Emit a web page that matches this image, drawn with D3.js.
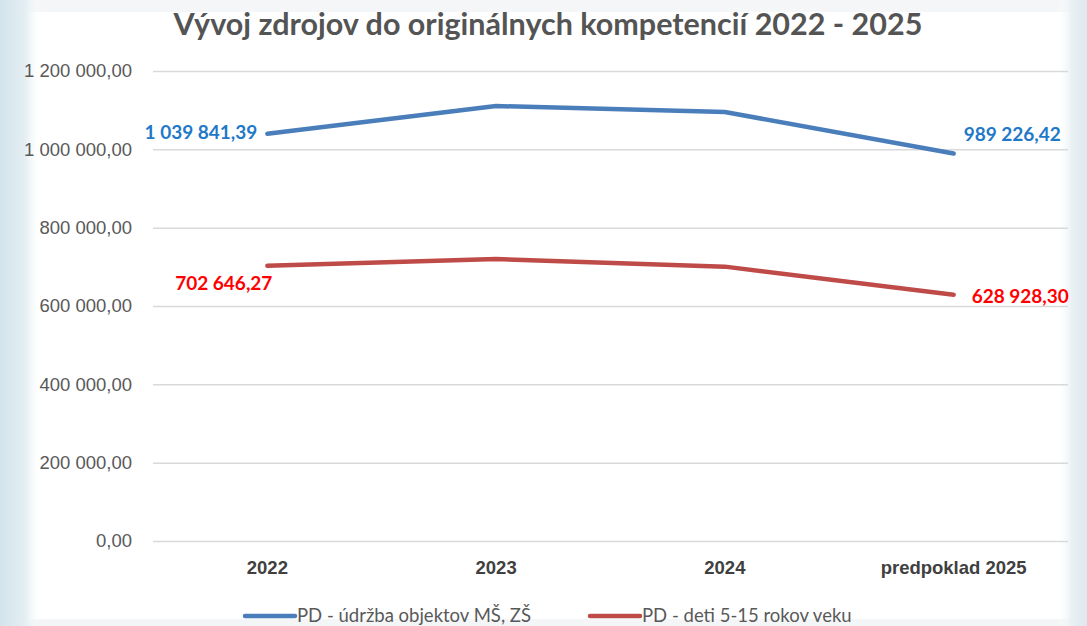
<!DOCTYPE html>
<html>
<head>
<meta charset="utf-8">
<script src="https://cdn.jsdelivr.net/npm/d3@7"></script>
<style>
  body { margin: 0; background: #fff; }
  svg { display: block; font-family: Lato, "Open Sans", sans-serif; }
</style>
</head>
<body>
<div id="chart"></div>
<script>
// Data
const categories = ["2022", "2023", "2024", "predpoklad 2025"];
const udrzba = [1039841.39, 1110500, 1095300, 989226.42];
const deti = [702646.27, 720000, 700500, 628928.30];
const yTicks = [0, 200000, 400000, 600000, 800000, 1000000, 1200000];
const seriesNames = ["PD - údržba objektov MŠ, ZŠ", "PD - deti 5-15 rokov veku"];

const W = 1087, H = 626;
const margin = {top: 71, right: 19, bottom: 85, left: 153},
    width = W - margin.left - margin.right,
    height = H - margin.top - margin.bottom;

const svg = d3.select("#chart")
    .append("svg")
    .attr("width", W)
    .attr("height", H);

// background with soft blue edges
const defs = svg.append("defs");
const gl = defs.append("linearGradient").attr("id", "gl");
gl.append("stop").attr("offset", "0%").attr("stop-color", "#d3e4ec");
gl.append("stop").attr("offset", "60%").attr("stop-color", "#e4eef3");
gl.append("stop").attr("offset", "100%").attr("stop-color", "#ffffff").attr("stop-opacity", 0);
const gr = defs.append("linearGradient").attr("id", "gr");
gr.append("stop").attr("offset", "0%").attr("stop-color", "#ffffff").attr("stop-opacity", 0);
gr.append("stop").attr("offset", "50%").attr("stop-color", "#e8f0f3");
gr.append("stop").attr("offset", "100%").attr("stop-color", "#dde9ee");

svg.append("rect").attr("width", W).attr("height", H).attr("fill", "#ffffff");
svg.append("rect").attr("width", W).attr("height", 12).attr("fill", "#f4f6f7");
svg.append("rect").attr("y", H - 7).attr("width", W).attr("height", 7).attr("fill", "#f3f5f6");
svg.append("rect").attr("width", 42).attr("height", H).attr("fill", "url(#gl)");
svg.append("rect").attr("x", W - 30).attr("width", 30).attr("height", H).attr("fill", "url(#gr)");

const g = svg.append("g")
    .attr("transform", "translate(" + margin.left + "," + margin.top + ")");

// Scales
const x = d3.scaleBand()
    .domain(categories)
    .range([0, width]);

const y = d3.scaleLinear()
    .domain([0, 1200000])
    .range([height, 0]);

const fmt = function(v) {
    const s = d3.format(",.2f")(v);
    return s.replace(/,/g, " ").replace(".", ",");
};

// Y axis with gridlines
g.append("g")
    .call(d3.axisLeft(y).tickValues(yTicks).tickSize(-width).tickPadding(21).tickFormat(fmt))
    .call((a) => a.select(".domain").remove())
    .call((a) => a.selectAll("line").attr("stroke", "#d9d9d9").attr("stroke-width", 1.5))
    .call((a) => a.selectAll("text").attr("fill", "#595959").style("font-size", "18.5px"));

// X axis labels
g.append("g")
    .attr("transform", "translate(0," + height + ")")
    .call(d3.axisBottom(x).tickSize(0).tickPadding(20))
    .call((a) => a.select(".domain").remove())
    .call((a) => a.selectAll("text").attr("fill", "#404040")
        .style("font-size", "18.5px").style("font-weight", "bold"));

// Title
svg.append("text")
    .attr("x", 548)
    .attr("y", 35)
    .attr("text-anchor", "middle")
    .attr("fill", "#545454")
    .style("font-size", "30.5px")
    .style("font-weight", "bold")
    .text("Vývoj zdrojov do originálnych kompetencií 2022 - 2025");

// Lines
const line = d3.line()
    .x((d, i) => x(categories[i]) + x.bandwidth() / 2)
    .y((d) => y(d));

const colours = ["#4a7ebb", "#be4b48"];

[udrzba, deti].forEach(function(s, k) {
    g.append("path")
        .datum(s)
        .attr("fill", "none")
        .attr("stroke", colours[k])
        .attr("stroke-width", 4.5)
        .attr("stroke-linecap", "round")
        .attr("stroke-linejoin", "round")
        .attr("d", line);
});

// Data labels (first and last points only)
const labels = [
    {v: udrzba[0], i: 0, dx: -10, dy: 5, anchor: "end", c: "#1f78c8"},
    {v: udrzba[3], i: 3, dx: 10, dy: -13, anchor: "start", c: "#1f78c8"},
    {v: deti[0], i: 0, dx: 5, dy: 24, anchor: "end", c: "#ff0000"},
    {v: deti[3], i: 3, dx: 18, dy: 8, anchor: "start", c: "#ff0000"}
];

g.selectAll(".dlabel")
    .data(labels)
    .enter()
    .append("text")
    .attr("class", "dlabel")
    .attr("x", (d) => x(categories[d.i]) + x.bandwidth() / 2 + d.dx)
    .attr("y", (d) => y(d.v) + d.dy)
    .attr("text-anchor", (d) => d.anchor)
    .attr("fill", (d) => d.c)
    .style("font-size", "19px")
    .style("font-weight", "bold")
    .text((d) => fmt(d.v));

// Legend
const legendX = [245, 590];
const legend = svg.append("g");
seriesNames.forEach(function(n, k) {
    legend.append("line")
        .attr("x1", legendX[k]).attr("x2", legendX[k] + 50)
        .attr("y1", 616).attr("y2", 616)
        .attr("stroke", colours[k])
        .attr("stroke-width", 4.5)
        .attr("stroke-linecap", "round");
    legend.append("text")
        .attr("x", legendX[k] + 52)
        .attr("y", 622)
        .attr("fill", "#595959")
        .style("font-size", "18.5px")
        .text(n);
});
</script>
</body>
</html>
